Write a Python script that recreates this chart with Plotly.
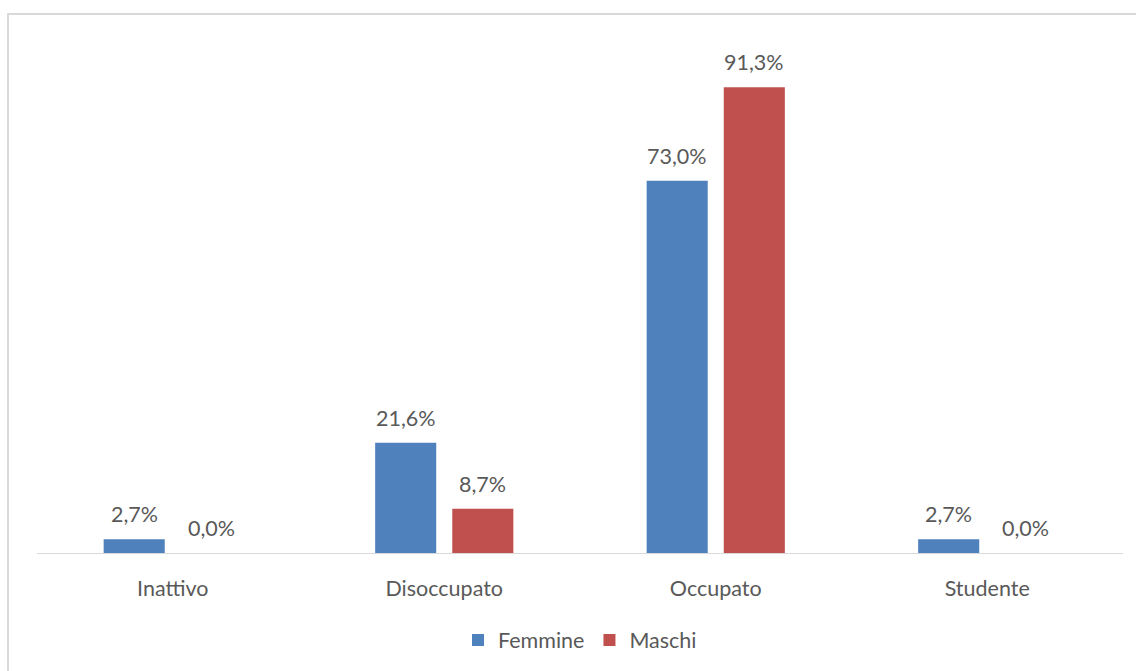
import plotly.graph_objects as go

categories = ["Inattivo", "Disoccupato", "Occupato", "Studente"]
femmine = [2.7, 21.6, 73.0, 2.7]
maschi = [0.0, 8.7, 91.3, 0.0]

BLUE = "#4F81BD"
RED = "#C0504D"
TEXT = "#595959"
FONT = "Lato"
FS = 21.5

W, H = 1136, 671
L, R, T, B = 37, 13, 43, 117
plot_w = W - L - R
plot_h = H - T - B

fig = go.Figure()
fig.add_trace(go.Bar(name="Femmine", x=categories, y=femmine, marker_color=BLUE,
                     marker_line_width=0))
fig.add_trace(go.Bar(name="Maschi", x=categories, y=maschi, marker_color=RED,
                     marker_line_width=0))

def fmt(v):
    return f"{v:.1f}".replace(".", ",") + "%"

# value labels above each bar
slot = plot_w / len(categories) * (1 - 0.432) / 2
for series, sign in ((femmine, -1), (maschi, 1)):
    for cat, v in zip(categories, series):
        fig.add_annotation(x=cat, y=v, text=fmt(v), showarrow=False,
                           xshift=sign * slot / 2, yshift=25, yanchor="middle",
                           font=dict(family=FONT, size=FS, color=TEXT))

# chart frame
def px_x(p):
    return (p - L) / plot_w

def px_y(p):
    return (H - B - p) / plot_h

fig.add_shape(type="rect", xref="paper", yref="paper",
              x0=px_x(8), x1=px_x(1145), y0=px_y(14), y1=px_y(690),
              line=dict(color="#D9D9D9", width=2), fillcolor="rgba(0,0,0,0)")

fig.update_layout(
    width=W, height=H,
    margin=dict(l=L, r=R, t=T, b=B),
    paper_bgcolor="white", plot_bgcolor="white",
    barmode="group", bargap=0.432, bargroupgap=0.208,
    font=dict(family=FONT, size=FS, color=TEXT),
    showlegend=True,
    legend=dict(orientation="h", x=0.5, xanchor="center", y=px_y(640),
                yanchor="middle", font=dict(family=FONT, size=FS, color=TEXT),
                itemwidth=30, traceorder="normal"),
    xaxis=dict(showline=True, linecolor="#D9D9D9", linewidth=1, ticks="",
               showgrid=False, ticklabelstandoff=16,
               tickfont=dict(family=FONT, size=FS, color=TEXT)),
    yaxis=dict(range=[0, 100], visible=False, showgrid=False),
)

fig.write_html("out.html")
